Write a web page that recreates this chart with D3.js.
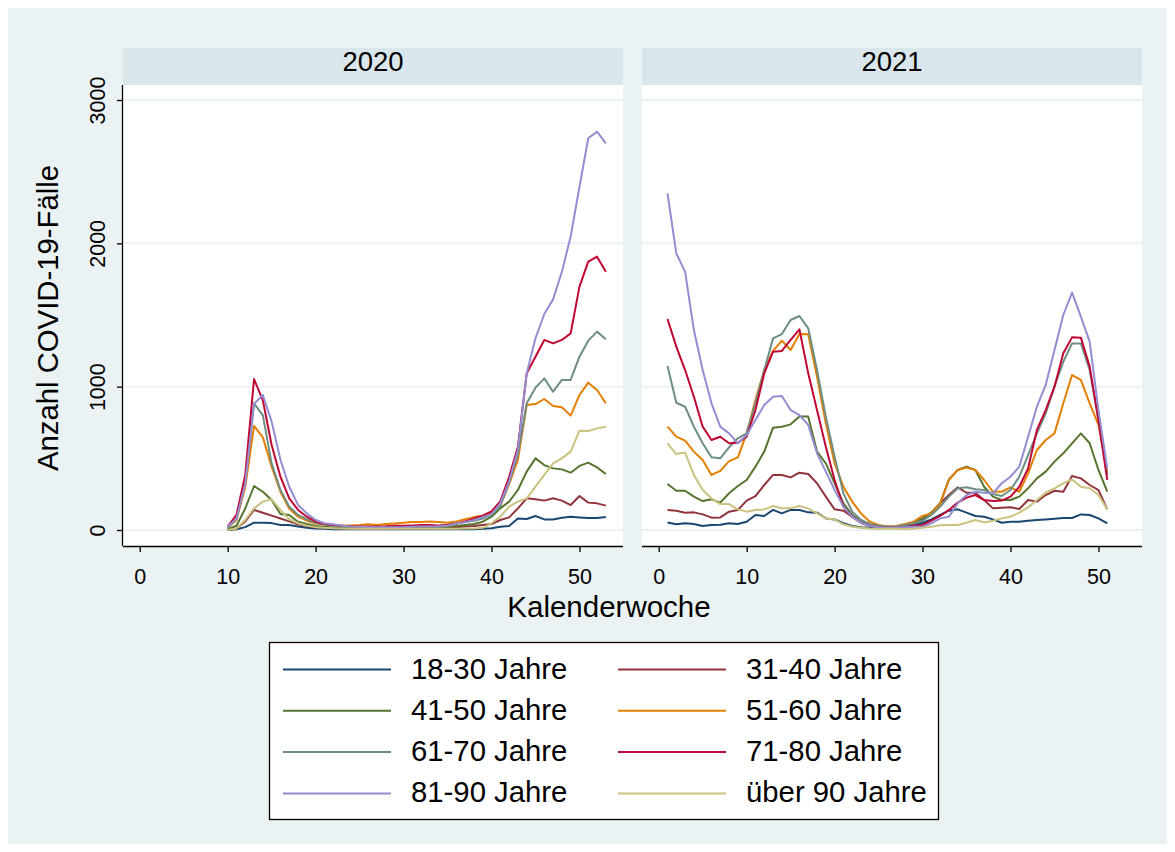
<!DOCTYPE html>
<html><head><meta charset="utf-8">
<script src="https://cdn.jsdelivr.net/npm/d3@7"></script>
<style>
body{margin:0;background:#fff;}
svg{display:block;font-family:"Liberation Sans",Arial,Helvetica,sans-serif;}
</style>
</head><body>
<svg id="chart" width="1175" height="852"></svg>
<script>
// ---------- data ----------
const years = ["2020", "2021"];
const ageGroups = ["18-30 Jahre","31-40 Jahre","41-50 Jahre","51-60 Jahre","61-70 Jahre","71-80 Jahre","81-90 Jahre","über 90 Jahre"];
const colors = ["#1a476f","#90353b","#55752f","#e37e00","#6e8e84","#c10534","#938dd2","#cac27e"];
const xTicks = [0,10,20,30,40,50];
const yTicks = [0,1000,2000,3000];

const weeks2020 = [10,11,12,13,14,15,16,17,18,19,20,21,22,23,24,25,26,27,28,29,30,31,32,33,34,35,36,37,38,39,40,41,42,43,44,45,46,47,48,49,50,51,52,53];
const weeks2021 = [1,2,3,4,5,6,7,8,9,10,11,12,13,14,15,16,17,18,19,20,21,22,23,24,25,26,27,28,29,30,31,32,33,34,35,36,37,38,39,40,41,42,43,44,45,46,47,48,49,50,51];

// 2020, weeks 10-53
const a18_30_2020 = [0,5,20,51,50,48,35,35,25,15,10,8, 6,5,5,5,5,5,5,5,5,5,5,5,5,6,6,6,5, 8,12,23,28,81,77,98,74,74,86,93,88,84,84,91];
const a31_40_2020 = [0,10,60,140,120,100,80,60,40,28,20,15, 14,12,10,10,10,10,10,10,12,12,12,12,14,16,20,25,28, 35,42,70,88,151,221,214,205,221,205,174,237,191,186,170];
const a41_50_2020 = [5,30,150,307,267,209,112,105,58,42,28,22, 18,15,14,13,12,12,13,14,15,16,16,16,18,22,28,35,42, 58,93,151,198,279,407,500,453,430,423,400,447,470,437,391];
const a51_60_2020 = [15,70,300,726,646,442,267,150,93,65,45,38, 35,30,32,35,40,35,42,45,50,55,55,60,55,50,60,75,90, 100,120,170,320,490,872,879,914,865,856,798,942,1028,977,884];
const a61_70_2020 = [15,80,340,884,800,465,280,163,105,75,50,38, 30,25,22,20,20,20,22,25,25,28,30,30,30,35,45,55,65, 80,110,170,330,530,884,993,1058,965,1047,1047,1209,1321,1384,1330];
const a71_80_2020 = [23,105,384,1053,905,593,372,221,140,93,58,42, 35,30,26,25,25,25,26,30,30,32,35,35,30,35,45,60,80, 100,130,200,370,580,1093,1209,1326,1302,1326,1372,1698,1872,1907,1802];
const a81_90_2020 = [23,80,325,880,942,756,490,302,175,116,70,47, 40,30,25,22,20,20,20,20,20,22,25,25,25,30,45,55,70, 90,110,186,340,560,1093,1337,1507,1609,1802,2047,2395,2733,2779,2698];
const a90p_2020   = [0,10,70,151,198,214,140,75,47,30,20,15, 12,10,8,8,8,8,8,8,8,8,8,8,8,8,8,10,10, 15,47,93,163,198,221,302,384,465,500,547,693,691,709,721];

// 2021, weeks 1-51
const a18_30_2021 = [53,40,47,42,28,35,37,47,42,58,105,98,140,116,140,140,123,121,81,74,47,28,20,15,12, 15,20,28,35,51,74,105,135,144,121,98,93,74,51,58,58,65,70,74,79,84,84,109,105,81,47];
const a31_40_2021 = [140,135,121,123,109,86,88,128,140,205,237,314,384,384,367,400,391,326,233,144,135,93,51,30,20, 18,20,28,42,74,121,186,244,298,260,260,209,151,156,158,147,209,198,244,274,267,377,360,314,279,144];
const a41_50_2021 = [321,274,274,233,202,214,191,256,307,349,442,547,714,721,737,791,791,547,465,326,186,105,58,35,25, 22,25,35,51,81,121,186,353,419,442,419,302,233,209,209,233,291,360,407,477,535,605,674,605,419,267];
const a51_60_2021 = [721,651,623,547,488,384,412,481,507,674,907,1116,1249,1321,1256,1367,1365,1070,744,465,302,198,116,58,35, 25,28,42,58,98,116,186,349,419,435,419,349,267,267,298,267,395,558,628,674,884,1081,1047,884,733,400];
const a61_70_2021 = [1144,888,860,721,605,507,500,577,640,674,884,1116,1337,1367,1465,1493,1407,1116,791,512,256,128,70,42,30, 22,25,35,47,65,105,163,233,291,298,284,279,251,237,279,372,523,674,814,1000,1174,1302,1302,1116,767,380];
const a71_80_2021 = [1472,1279,1116,930,721,628,651,605,609,651,837,1093,1244,1249,1326,1400,1093,837,581,349,163,93,51,30,20, 15,15,19,28,35,65,98,140,191,226,244,209,202,205,233,302,430,698,837,1000,1233,1344,1342,1140,767,349];
const a81_90_2021 = [2349,1930,1802,1395,1116,884,721,674,605,663,767,872,930,935,837,802,733,535,407,279,163,93,51,28,20, 15,15,19,23,23,47,81,93,186,244,267,260,256,326,372,442,651,860,1012,1256,1500,1656,1488,1314,837,430];
const a90p_2021   = [605,530,540,384,279,221,181,181,144,128,140,144,167,151,151,167,151,116,81,74,40,23,15,10,8, 8,8,5,8,16,23,33,35,35,51,70,53,65,81,93,121,158,209,260,291,326,353,302,291,244,144];

const series2020 = [a18_30_2020,a31_40_2020,a41_50_2020,a51_60_2020,a61_70_2020,a71_80_2020,a81_90_2020,a90p_2020];
const series2021 = [a18_30_2021,a31_40_2021,a41_50_2021,a51_60_2021,a61_70_2021,a71_80_2021,a81_90_2021,a90p_2021];
const panels = [
  {year: years[0], weeks: weeks2020, series: series2020, left: 123},
  {year: years[1], weeks: weeks2021, series: series2021, left: 642}
];

// ---------- layout ----------
const W = 1175, H = 852;
const bgColor = "#eaf2f3", stripColor = "#d9e6eb", gridColor = "#eaf2f3";
const panelW = 500, plotTop = 85, plotBottom = 546, stripTop = 48;
const FONT = '"Liberation Sans",Arial,sans-serif';

const svg = d3.select("#chart");
svg.append("rect").attr("x",0).attr("y",0).attr("width",W).attr("height",H).attr("fill","#fff");
svg.append("rect").attr("x",8).attr("y",8).attr("width",W-16).attr("height",H-16).attr("fill",bgColor);

const y = d3.scaleLinear().domain([-111.6, 3104.6]).range([plotBottom, plotTop]);

panels.forEach((p, pi) => {
  const x = d3.scaleLinear().domain([-1.9, 54.95]).range([p.left, p.left + panelW]);
  const g = svg.append("g");
  // strip
  g.append("rect").attr("x",p.left).attr("y",stripTop).attr("width",panelW).attr("height",plotTop-stripTop).attr("fill",stripColor);
  g.append("text").attr("x",p.left+panelW/2).attr("y",71).attr("text-anchor","middle")
    .attr("font-size",27.5).attr("fill","#000").text(p.year);
  // plot region
  g.append("rect").attr("x",p.left).attr("y",plotTop).attr("width",panelW).attr("height",plotBottom-plotTop).attr("fill","#fff");
  // gridlines
  g.selectAll("line.grid").data(yTicks).join("line").attr("class","grid")
    .attr("x1",p.left).attr("x2",p.left+panelW)
    .attr("y1",d=>y(d)).attr("y2",d=>y(d))
    .attr("stroke",gridColor).attr("stroke-width",2);
  // lines
  const line = d3.line().x((d,i)=>x(p.weeks[i])).y(d=>y(d));
  p.series.forEach((s, si) => {
    g.append("path").attr("d", line(s)).attr("fill","none")
      .attr("stroke", colors[si]).attr("stroke-width",2).attr("stroke-linejoin","round");
  });
  // x axis
  const xa = g.append("g").attr("transform",`translate(0,${plotBottom})`)
    .call(d3.axisBottom(x).tickValues(xTicks).tickFormat(d3.format("d")).tickSize(6).tickSizeOuter(0).tickPadding(0));
  xa.select(".domain").attr("stroke","#000").attr("stroke-width",1.3).attr("d",`M${p.left},0.5H${p.left+panelW}`);
  xa.selectAll(".tick line").attr("stroke","#000").attr("stroke-width",1.3);
  xa.selectAll(".tick text").attr("y",38).attr("dy",0).attr("font-size",21.5)
    .attr("font-family",FONT).attr("fill","#000");
  // y axis on first panel only
  if (pi === 0) {
    const ya = g.append("g").attr("transform",`translate(${p.left},0)`)
      .call(d3.axisLeft(y).tickValues(yTicks).tickFormat(d3.format("d")).tickSize(6).tickSizeOuter(0));
    ya.select(".domain").attr("stroke","#000").attr("stroke-width",1.3).attr("d",`M-0.5,${plotTop}V${plotBottom}`);
    ya.selectAll(".tick line").attr("stroke","#000").attr("stroke-width",1.3);
    ya.selectAll(".tick text").attr("transform","rotate(-90)").attr("x",0).attr("y",-18).attr("dy",0)
      .attr("text-anchor","middle").attr("font-size",21.5)
      .attr("font-family",FONT).attr("fill","#000");
  }
});

// axis titles
svg.append("text").attr("transform","translate(58,318) rotate(-90)").attr("text-anchor","middle")
  .attr("font-size",29.3).attr("fill","#000").text("Anzahl COVID-19-Fälle");
svg.append("text").attr("x",609).attr("y",617).attr("text-anchor","middle")
  .attr("font-size",29.5).attr("fill","#000").text("Kalenderwoche");

// legend
const leg = svg.append("g");
leg.append("rect").attr("x",269.5).attr("y",642.5).attr("width",669).attr("height",177)
  .attr("fill","#fff").attr("stroke","#000").attr("stroke-width",1.3);
const colX = [283, 618], rowY0 = 669.5, rowStep = 41.3;
ageGroups.forEach((name, i) => {
  const cx = colX[i % 2], cy = rowY0 + Math.floor(i / 2) * rowStep;
  leg.append("line").attr("x1",cx).attr("x2",cx+108).attr("y1",cy).attr("y2",cy)
    .attr("stroke",colors[i]).attr("stroke-width",2);
  leg.append("text").attr("x",cx+128).attr("y",cy+9).attr("font-size",29.3).attr("fill","#000").text(name);
});
</script>
</body></html>
